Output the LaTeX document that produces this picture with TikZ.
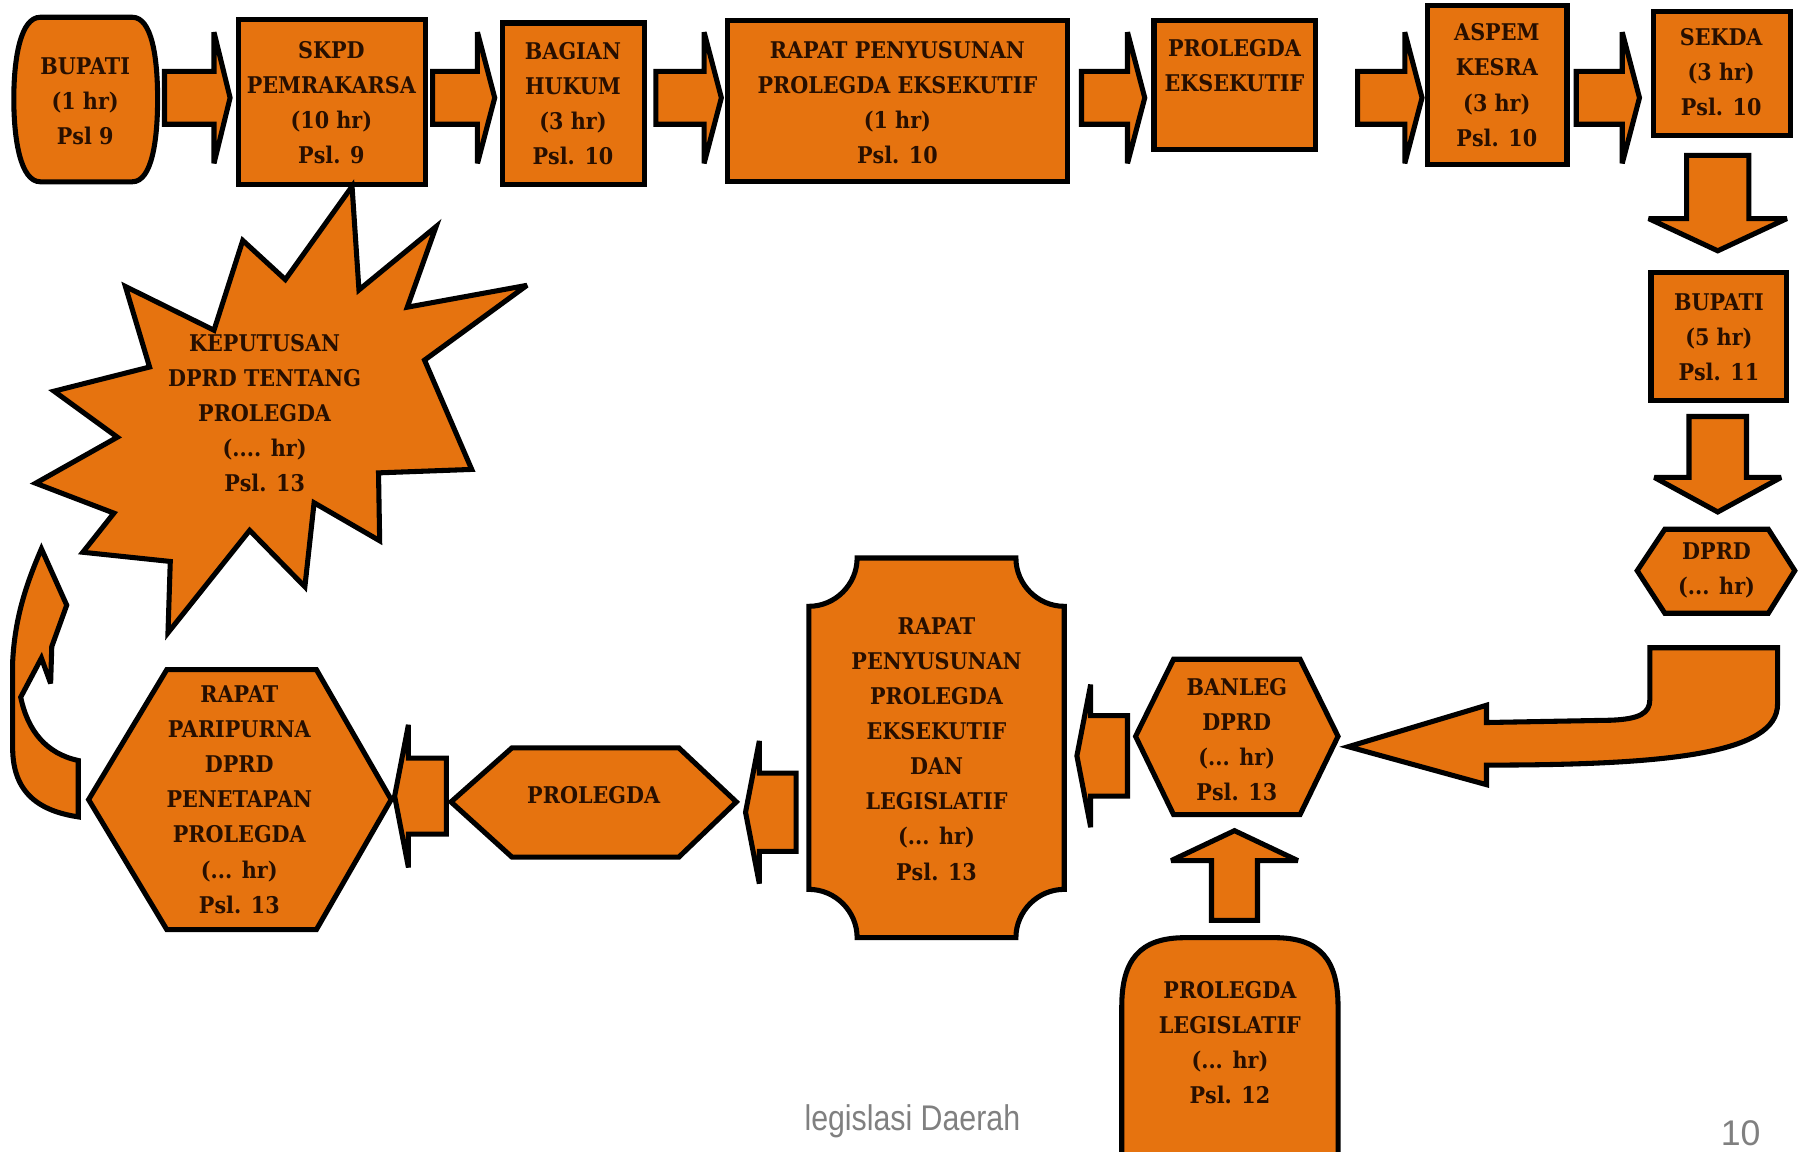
\documentclass[tikz,border=0pt]{standalone}
\usepackage{fontspec}
\newfontfamily\boxfont[FakeStretch=0.9]{DejaVu Serif}
\newfontfamily\footfont[FakeStretch=0.85]{Liberation Sans}
\newfontfamily\numfont{Liberation Sans}
\definecolor{org}{RGB}{230,115,15}
\definecolor{txt}{RGB}{40,15,0}
\definecolor{ftc}{RGB}{128,128,128}
\newcommand\RArr[4]{% shaft start, head base, tip, y
  \draw[shp] (#1,#4-23) -- (#2,#4-23) -- (#2,#4-57) -- (#3,#4) -- (#2,#4+57) -- (#2,#4+23) -- (#1,#4+23) -- cycle;}
\newcommand\LArr[5]{% shaft start (right), head base, tip, y, shaft half
  \draw[shp] (#1,#4-#5) -- (#2,#4-#5) -- (#2,#4-62) -- (#3,#4) -- (#2,#4+62) -- (#2,#4+#5) -- (#1,#4+#5) -- cycle;}
\newcommand\DArr[6]{% x, shaft top, head base, tip, shaft half, head half
  \draw[shp] (#1-#5,#2) -- (#1+#5,#2) -- (#1+#5,#3) -- (#1+#6,#3) -- (#1,#4) -- (#1-#6,#3) -- (#1-#5,#3) -- cycle;}
\begin{document}
\begin{tikzpicture}[x=0.5pt,y=-0.5pt,
  shp/.style={fill=org,draw=black,line width=2.2pt,line join=miter,miter limit=4},
  lbl/.style={align=center,text=txt,inner sep=0pt,
    font=\boxfont\bfseries\fontsize{10}{15.25}\selectfont}]
\useasboundingbox (0,0) rectangle (1568,1001);
\fill[white] (0,0) rectangle (1568,1001);
\clip (0,0) rectangle (1568,1001);

% ---------- top row ----------
\draw[shp] (35,15) -- (115,15) .. controls (132,15) and (137,50) .. (137,86)
  .. controls (137,122) and (132,158) .. (115,158) -- (35,158)
  .. controls (18,158) and (12,122) .. (12,86) .. controls (12,50) and (18,15) .. (35,15) -- cycle;
\node[lbl] (bup1) at (74,88) {BUPATI\\(1 hr)\\Psl 9};

\draw[shp] (207,17) rectangle (370,160);
\node[lbl] (skpd) at (288,89) {SKPD\\PEMRAKARSA\\(10 hr)\\Psl. 9};

\draw[shp] (437,20) rectangle (560,160);
\node[lbl] (hukum) at (498,90) {BAGIAN\\HUKUM\\(3 hr)\\Psl. 10};

\draw[shp] (632,18) rectangle (928,158);
\node[lbl] (rapat1) at (780,89) {RAPAT PENYUSUNAN\\PROLEGDA EKSEKUTIF\\(1 hr)\\Psl. 10};

\draw[shp] (1003,18) rectangle (1143,130);
\node[lbl] (proeks) at (1073,57) {PROLEGDA\\EKSEKUTIF};

\draw[shp] (1241,5) rectangle (1362,143);
\node[lbl] (aspem) at (1301,74) {ASPEM\\KESRA\\(3 hr)\\Psl. 10};

\draw[shp] (1437,10) rectangle (1556,118);
\node[lbl] (sekda) at (1496,63) {SEKDA\\(3 hr)\\Psl. 10};

\RArr{143}{186}{200}{85}
\RArr{376}{415}{430}{85}
\RArr{570}{612}{627}{85}
\RArr{940}{980}{995}{85}
\RArr{1180}{1221}{1236}{85}
\RArr{1370}{1410}{1425}{85}

% ---------- right column ----------
\DArr{1493}{135}{190}{218}{27}{60}
\draw[shp] (1435,237) rectangle (1553,348);
\node[lbl] (bup2) at (1494,293) {BUPATI\\(5 hr)\\Psl. 11};
\DArr{1493}{362}{415}{445}{25}{55}

\draw[shp] (1447,460) -- (1537,460) -- (1560,496) -- (1537,533) -- (1447,533) -- (1423,496) -- cycle;
\node[lbl] (dprd) at (1492,496) {DPRD\\(... hr)};

% U-turn arrow
\draw[shp] (1434,563) -- (1545,563) -- (1545,612) .. controls (1545,655) and (1450,665) .. (1292,665)
  -- (1292,682) -- (1172,649) -- (1292,613) -- (1292,628) -- (1400,626)
  .. controls (1425,625) and (1434,620) .. (1434,608) -- cycle;

% ---------- bottom row ----------
\draw[shp] (1020,573) -- (1130,573) -- (1163,640) -- (1130,708) -- (1020,708) -- (987,640) -- cycle;
\node[lbl] (banleg) at (1075,643) {BANLEG\\DPRD\\(... hr)\\Psl. 13};

\DArr{1073}{800}{748}{722}{20}{55}
\draw[shp] (975,1030) -- (975,875) .. controls (975,835) and (990,815) .. (1030,815) -- (1108,815)
  .. controls (1148,815) and (1163,835) .. (1163,875) -- (1163,1030) -- cycle;
\node[lbl] (proleg) at (1069,906) {PROLEGDA\\LEGISLATIF\\(... hr)\\Psl. 12};

\LArr{980}{948}{936}{657}{35}
\draw[shp] (745,485) -- (883,485) .. controls (883,508) and (902,527) .. (925,527) -- (925,773)
  .. controls (902,773) and (883,792) .. (883,815) -- (745,815) .. controls (745,792) and (726,773) .. (703,773)
  -- (703,527) .. controls (726,527) and (745,508) .. (745,485) -- cycle;
\node[lbl] (rapat2) at (814,651) {RAPAT\\PENYUSUNAN\\PROLEGDA\\EKSEKUTIF\\DAN\\LEGISLATIF\\(... hr)\\Psl. 13};

\LArr{692}{660}{648}{706}{34}
\draw[shp] (445,650) -- (590,650) -- (640,697) -- (590,745) -- (445,745) -- (392,697) -- cycle;
\node[lbl] (prolegda) at (516,691) {PROLEGDA};

\LArr{388}{355}{343}{692}{33}
\draw[shp] (145,582) -- (275,582) -- (340,695) -- (275,808) -- (145,808) -- (77,695) -- cycle;
\node[lbl] (paripurna) at (208,695) {RAPAT\\PARIPURNA\\DPRD\\PENETAPAN\\PROLEGDA\\(... hr)\\Psl. 13};

% curved arrow
\draw[shp] (36,477) -- (58,526) -- (45,562) -- (44,594) -- (36,572) -- (18,606)
  .. controls (24,635) and (40,655) .. (68,661) -- (68,710)
  .. controls (35,705) and (11,690) .. (11,650) -- (11,575)
  .. controls (13,535) and (24,505) .. (36,477) -- cycle;

% starburst
\draw[shp] (306,162) -- (312,252) -- (379,197) -- (354,267) -- (458,248) -- (369,313) -- (410,408)
  -- (329,411) -- (330,470) -- (273,437) -- (265,510) -- (217,461) -- (146,550) -- (148,488)
  -- (72,480) -- (99,446) -- (31,420) -- (102,380) -- (47,340) -- (130,319) -- (109,249)
  -- (186,287) -- (211,209) -- (248,243) -- cycle;
\node[lbl] (keputusan) at (230,359) {KEPUTUSAN\\DPRD TENTANG\\PROLEGDA\\(.... hr)\\Psl. 13};

% footer
\node[text=ftc,font=\footfont\fontsize{15.5}{18}\selectfont,inner sep=0pt] (foot) at (793,975) {legislasi Daerah};
\node[text=ftc,font=\numfont\fontsize{15.5}{18}\selectfont,inner sep=0pt] (page) at (1513,985) {10};
\end{tikzpicture}
\end{document}
